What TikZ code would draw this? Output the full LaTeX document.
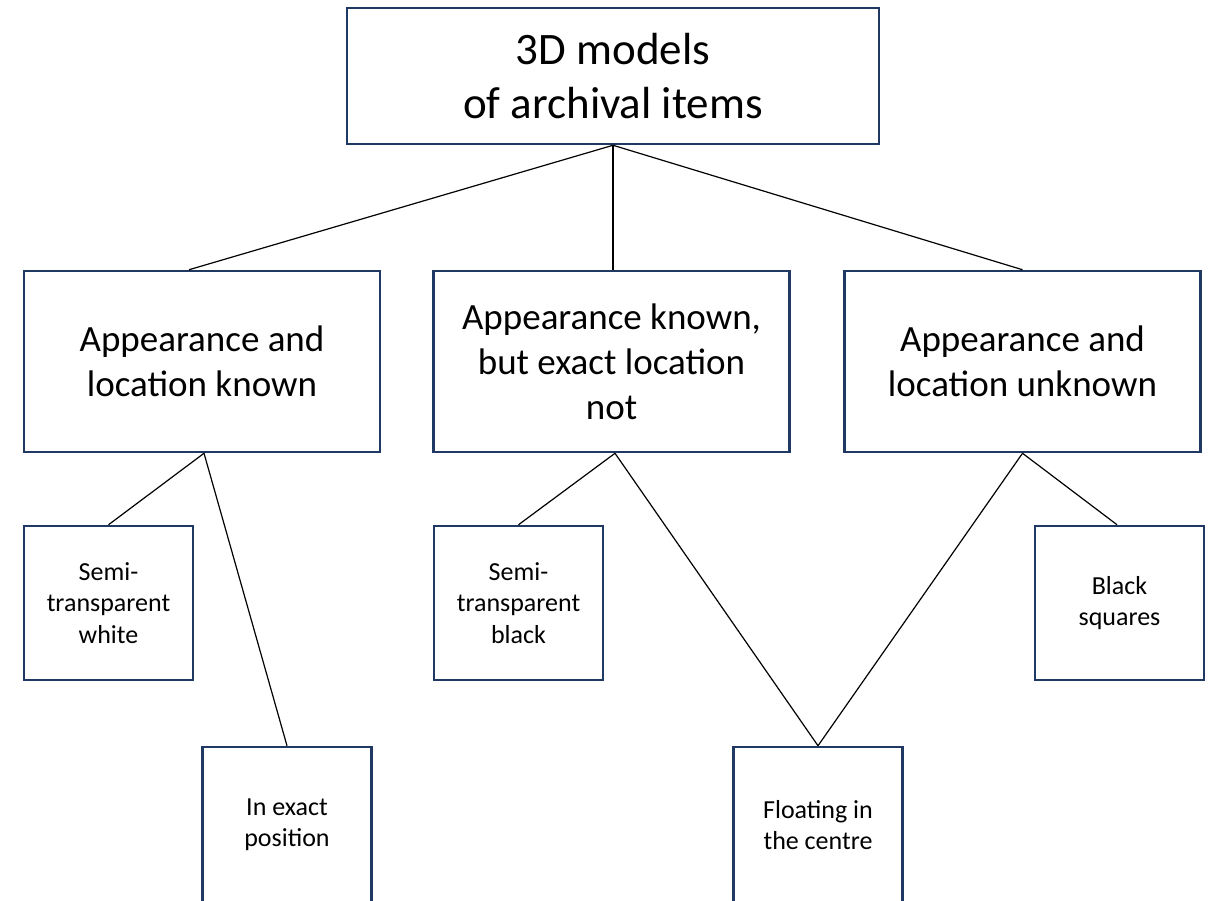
\documentclass[tikz,border=0pt]{standalone}
\usepackage{fontspec}
\setmainfont{Carlito}
\usetikzlibrary{calc}
\definecolor{navy}{RGB}{32,56,100}
\tikzset{
  box/.style={draw=navy, line width=1.9pt, fill=white, rectangle, inner sep=0pt, align=center, text=black},
  topbox/.style={box, minimum width=399pt, minimum height=102pt, font=\fontsize{33.75pt}{41pt}\selectfont},
  midbox/.style={box, minimum width=267pt, minimum height=135.75pt, font=\fontsize{27.75pt}{33.75pt}\selectfont},
  smallbox/.style={box, minimum width=126.75pt, minimum height=115.5pt, font=\fontsize{19.5pt}{23.6pt}\selectfont},
  lowbox/.style={box, minimum width=126.75pt, minimum height=117pt, font=\fontsize{19.5pt}{23.6pt}\selectfont},
  conn/.style={draw=black, line width=0.9pt}
}
\begin{document}
\begin{tikzpicture}[x=0.75pt,y=-0.75pt]
\path[use as bounding box, fill=white] (0,0) rectangle (1212,900);
\node[topbox] (top) at (613,76) {3D models\\of archival items};
\node[midbox] (l1) at (202,361.5) {Appearance and\\location known};
\node[midbox] (m1) at (611.5,361.5) {Appearance known,\\but exact location\\not};
\node[midbox] (r1) at (1022.5,361.5) {Appearance and\\location unknown};
\node[smallbox] (s1) at (108.5,603) {Semi-\\transparent\\white};
\node[smallbox] (s2) at (518.5,603) {Semi-\\transparent\\black};
\node[smallbox] (s3) at (1119.5,603) {Black\\squares};
\node[lowbox] (b1) at (287,825) {In exact\\position};
\node[lowbox] (b2) at (818,825) {Floating in\\the centre};
\draw[conn] (top.south) -- ($(l1.north)+(-13,0)$);
\draw[conn] (top.south) -- ($(m1.north)+(1.5,0)$);
\draw[conn] (top.south) -- (r1.north);
\draw[conn] ($(l1.south)+(2,0)$) -- (s1.north);
\draw[conn] ($(l1.south)+(2,0)$) -- (b1.north);
\draw[conn] ($(m1.south)+(3.5,0)$) -- (s2.north);
\draw[conn] ($(m1.south)+(3.5,0)$) -- (b2.north);
\draw[conn] (r1.south) -- (b2.north);
\draw[conn] (r1.south) -- ($(s3.north)+(-2.5,0)$);
\end{tikzpicture}
\end{document}
